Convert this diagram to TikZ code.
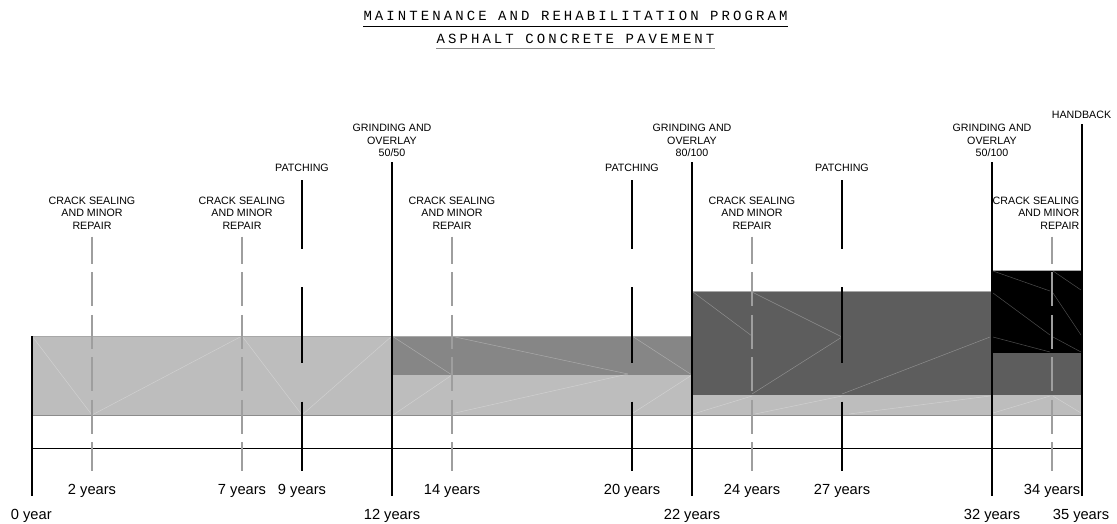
\documentclass[tikz,border=0pt]{standalone}
\usepackage{fontspec}
\setmainfont{Liberation Sans}
\newfontfamily\titlefont[LetterSpace=22]{Liberation Mono}
\definecolor{lightband}{RGB}{189,189,189}
\definecolor{midband}{RGB}{134,134,134}
\definecolor{darkband}{RGB}{93,93,93}
\definecolor{dashgray}{RGB}{158,158,158}
\definecolor{edgegray}{RGB}{140,140,140}
\definecolor{topgray}{RGB}{168,168,168}
\begin{document}
\begin{tikzpicture}[x=1pt,y=-1pt,
  small/.style={font=\fontsize{10.67}{12.6}\selectfont, inner sep=0pt, align=center},
  yearlbl/.style={font=\fontsize{14.67}{16}\selectfont, inner sep=0pt, anchor=base},
  titlelbl/.style={font=\fontsize{14}{16}\titlefont, inner sep=0pt, anchor=base},
  bigline/.style={line width=2.4pt, black},
  patchline/.style={line width=2pt, black},
  crackline/.style={line width=1.3pt, dashgray, dash pattern=on 34pt off 8.5pt, dash phase=6.9pt},
  tri/.style={white, opacity=0.3, line width=0.5pt},
  ]
\useasboundingbox (0,0) rectangle (1117,523);
% title
\node[titlelbl] (t1) at (575.5,20.7) {MAINTENANCE AND REHABILITATION PROGRAM};
\node[titlelbl] (t2) at (575.5,43.3) {ASPHALT CONCRETE PAVEMENT};
\draw[black, line width=0.8pt] ([yshift=-6pt]t1.base west) -- ([yshift=-6pt]t1.base east);
\draw[edgegray, line width=1.5pt] ([yshift=-5.2pt]t2.base west) -- ([yshift=-5.2pt]t2.base east);
% bands
\fill[lightband] (32,336) rectangle (392,415);
\fill[midband] (392,336) rectangle (692,375);
\fill[lightband] (392,375) rectangle (692,415);
\fill[darkband] (692,291) rectangle (992,395);
\fill[lightband] (692,395) rectangle (1082,415);
\fill[black] (992,270) rectangle (1082,353);
\fill[darkband] (992,353) rectangle (1082,395);
% faint facet lines
\draw[tri] (32,336) -- (92,415) -- (242,336) -- (302,415) -- (392,336);
\draw[tri] (392,336) -- (452,375);
\draw[tri] (455,337) -- (628,374);
\draw[tri] (632,336) -- (692,375);
\draw[tri] (393,415) -- (452,375);
\draw[tri] (455,413) -- (628,374);
\draw[tri] (633,413) -- (692,375);
\draw[tri] (693,292) -- (752,336);
\draw[tri] (752,292) -- (842,337) -- (752,394);
\draw[tri] (842,394) -- (990,337);
\draw[tri] (693,414) -- (752,396);
\draw[tri] (755,414) -- (842,396);
\draw[tri] (849,414) -- (990,396);
\draw[tri] (993,271) -- (1050,291);
\draw[tri] (993,293) -- (1050,335);
\draw[tri] (993,337) -- (1050,352);
\draw[tri] (1053,271) -- (1081,290);
\draw[tri] (1053,293) -- (1081,335);
\draw[tri] (1053,337) -- (1081,352);
\draw[tri] (993,413) -- (1050,396);
\draw[tri] (1053,396) -- (1081,413);
% band edges
\draw[topgray, line width=0.7pt] (32,336) -- (692,336);
\draw[topgray, line width=0.7pt] (692,291) -- (992,291);
\draw[topgray, line width=0.7pt] (992,270) -- (1082,270);
\draw[edgegray, line width=1pt] (32,415) -- (1082,415);
% horizontal axis
\draw[black, line width=1.2pt] (32,448.5) -- (1082,448.5);
% crack sealing lines
\foreach \x in {92,242,452,752,1052} \draw[crackline] (\x,236.7) -- (\x,470.7);
% patching lines
\foreach \x in {302,632,842} {
  \draw[patchline] (\x,180) -- (\x,249);
  \draw[patchline] (\x,287) -- (\x,363);
  \draw[patchline] (\x,401.5) -- (\x,471);
}
% main lines
\draw[bigline] (32,336) -- (32,496);
\foreach \x in {392,692,992} \draw[bigline] (\x,162) -- (\x,496);
\draw[bigline] (1082,124) -- (1082,496);
% labels
\node[small] (cs2) at (92,213) {CRACK SEALING\\AND MINOR\\REPAIR};
\node[small] (cs7) at (242,213) {CRACK SEALING\\AND MINOR\\REPAIR};
\node[small] (cs14) at (452,213) {CRACK SEALING\\AND MINOR\\REPAIR};
\node[small] (cs24) at (752,213) {CRACK SEALING\\AND MINOR\\REPAIR};
\node[small, align=right, anchor=east] (cs34) at (1079.5,213) {CRACK SEALING\\AND MINOR\\REPAIR};
\node[small] (p9) at (302,168) {PATCHING};
\node[small] (p20) at (632,168) {PATCHING};
\node[small] (p27) at (842,168) {PATCHING};
\node[small] (g12) at (392,140.7) {GRINDING AND\\OVERLAY\\50/50};
\node[small] (g22) at (692,140.7) {GRINDING AND\\OVERLAY\\80/100};
\node[small] (g32) at (992,140.7) {GRINDING AND\\OVERLAY\\50/100};
\node[small] (hb) at (1081.5,115) {HANDBACK};
% year labels
\node[yearlbl] (y2) at (92,494.3) {2 years};
\node[yearlbl] (y7) at (242,494.3) {7 years};
\node[yearlbl] (y9) at (302,494.3) {9 years};
\node[yearlbl] (y14) at (452,494.3) {14 years};
\node[yearlbl] (y20) at (632,494.3) {20 years};
\node[yearlbl] (y24) at (752,494.3) {24 years};
\node[yearlbl] (y27) at (842,494.3) {27 years};
\node[yearlbl] (y34) at (1052,494.3) {34 years};
\node[yearlbl] (y0) at (31.3,519) {0 year};
\node[yearlbl] (y12) at (392,519) {12 years};
\node[yearlbl] (y22) at (692,519) {22 years};
\node[yearlbl] (y32) at (992,519) {32 years};
\node[yearlbl] (y35) at (1081,519) {35 years};
\end{tikzpicture}
\end{document}
